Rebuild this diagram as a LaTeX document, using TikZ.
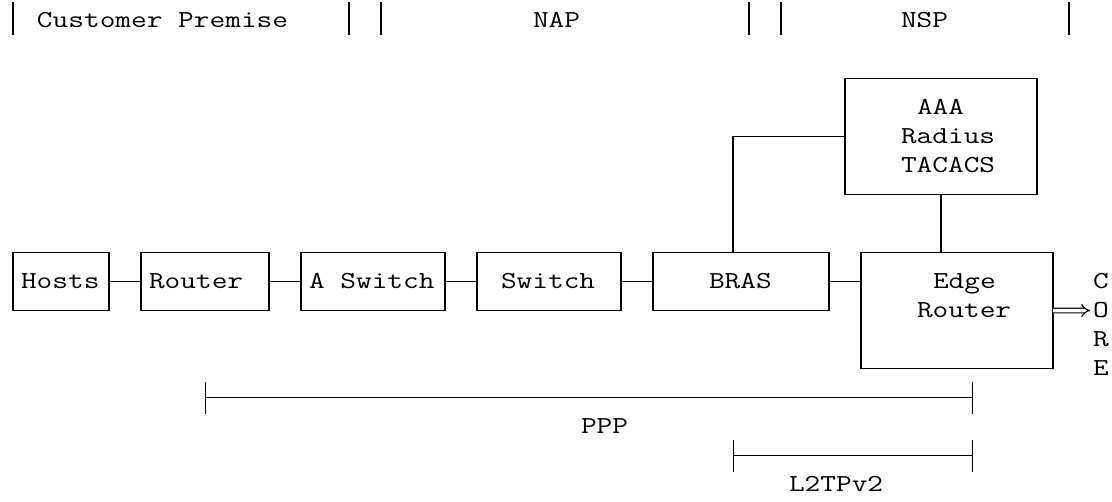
\documentclass[tikz,border=0pt]{standalone}
\usepackage{graphicx}
\usepackage{tikz}
\usetikzlibrary{arrows.meta}
\usetikzlibrary{positioning}

% monospaced text, stretched to the column grid
\newcommand{\mono}[1]{\scalebox{1.25}[1]{#1}}

\begin{document}
\begin{tikzpicture}[x=0.4cm,y=-0.725cm,line width=0.8pt]
    % styles
    \tikzstyle{every node}=[inner sep=0pt,outer sep=0pt]
    \tikzstyle{box}=[draw=black,rectangle,minimum height=1.45cm]
    \tikzstyle{txt}=[anchor=base west,font=\ttfamily\fontsize{17.34}{20.55}\selectfont]
    \tikzstyle{span}=[{Bar[width=0.8cm]}-{Bar[width=0.8cm]}]

    \useasboundingbox (0,0) rectangle (69.5,17.276);

    % header
    \node[txt] (cp) at (2.3125,0.964) {\mono{Customer Premise}};
    \node[txt] (nap) at (33.3125,0.964) {\mono{NAP}};
    \node[txt] (nsp) at (56.3125,0.964) {\mono{NSP}};
    \foreach \c in {0,21,23,46,48,66}
        \draw (\c+0.8125,0.08) -- (\c+0.8125,1.22);

    % boxes
    \node[box,minimum width=2.4cm] (hosts) at (3.8125,9.707) {};
    \node[box,minimum width=3.2cm] (router) at (12.8125,9.707) {};
    \node[box,minimum width=3.6cm] (asw) at (23.3125,9.707) {};
    \node[box,minimum width=3.6cm] (sw) at (34.3125,9.707) {};
    \node[box,minimum width=4.4cm] (bras) at (46.3125,9.707) {};
    \node[box,minimum width=4.8cm,minimum height=2.9cm] (edge) at (59.8125,10.707) {};
    \node[box,minimum width=4.8cm,minimum height=2.9cm] (aaa) at (58.8125,4.707) {};

    % box texts
    \node[txt] (hosts-t) at (1.3125,9.964) {\mono{Hosts}};
    \node[txt] (router-t) at (9.3125,9.964) {\mono{Router}};
    \node[txt] (asw-t) at (19.3125,9.964) {\mono{A Switch}};
    \node[txt] (sw-t) at (31.3125,9.964) {\mono{Switch}};
    \node[txt] (bras-t) at (44.3125,9.964) {\mono{BRAS}};
    \node[txt] (edge-t1) at (58.3125,9.964) {\mono{Edge}};
    \node[txt] (edge-t2) at (57.3125,10.964) {\mono{Router}};
    \node[txt] (aaa-t1) at (57.3125,3.964) {\mono{AAA}};
    \node[txt] (aaa-t2) at (56.3125,4.964) {\mono{Radius}};
    \node[txt] (aaa-t3) at (56.3125,5.964) {\mono{TACACS}};

    % core
    \foreach \l [count=\i] in {C,O,R,E}
        \node[txt] (core\i) at (68.3125,8.964+\i) {\mono{\l}};

    % links
    \draw (hosts) -- (router);
    \draw (router) -- (asw);
    \draw (asw) -- (sw);
    \draw (sw) -- (bras);
    \draw (bras.east) -- (bras.east -| edge.west);
    \draw ([xshift=-0.2cm]bras.north) |- (aaa.west);
    \draw (aaa.south) -- (aaa.south |- edge.north);
    \draw[-{Implies},double,double distance=2.5pt,shorten >=2pt] (edge.east) -- (core2.west);

    % sessions
    \coordinate (ppp-a) at (12.8125,13.707);
    \coordinate (ppp-b) at (60.8125,13.707);
    \draw[span] (ppp-a) -- (ppp-b);
    \node[txt] (ppp) at (36.3125,14.964) {\mono{PPP}};
    \coordinate (l2tp-a) at (45.8125,15.707);
    \coordinate (l2tp-b) at (60.8125,15.707);
    \draw[span] (l2tp-a) -- (l2tp-b);
    \node[txt] (l2tp) at (49.3125,16.964) {\mono{L2TPv2}};
\end{tikzpicture}
\end{document}
